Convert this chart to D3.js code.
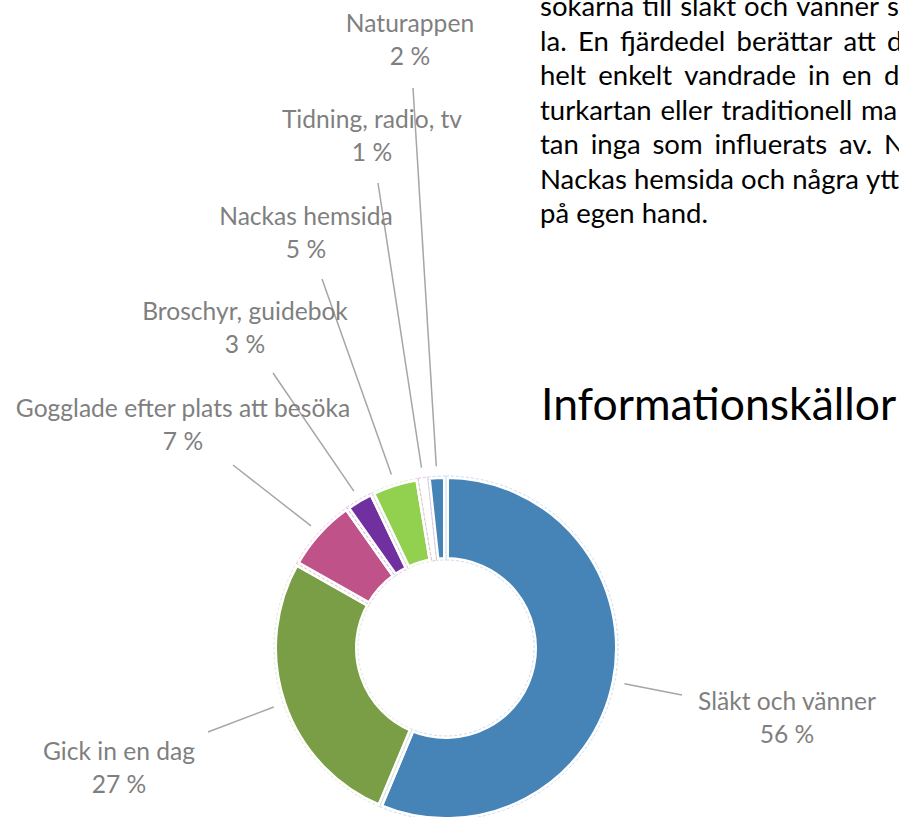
<!DOCTYPE html>
<html>
<head>
<meta charset="utf-8">
<script src="https://cdn.jsdelivr.net/npm/d3@7"></script>
<style>
	body { margin: 0; background: #ffffff; }
	svg { display: block; }
</style>
</head>
<body>
<div id="div_id_main"></div>
<script>

// ---- data -------------------------------------------------------------

const g_vCategories = ["Släkt och vänner", "Gick in en dag", "Gogglade efter plats att besöka",
						"Broschyr, guidebok", "Nackas hemsida", "Tidning, radio, tv", "Naturappen"];

const g_vShares = [56.3, 26.9, 7.0, 2.7, 4.5, 0.9, 1.7];	// percent

const g_vColors = ["#4683B7", "#7A9E46", "#BF5289", "#7030A0", "#92D050", "#FFFFFF", "#4683B7"];

const g_vOutline = ["#BBD3EA", "#D3E2C0", "#EDB9D6", "#CDB3E0", "#D4EDBB", "#E6A3D3", "#BBD3EA"];

const g_sTitle = "Informationskällor";

const g_vParagraph = [
	["sökarna", "till", "släkt", "och", "vänner", "s"],
	["la.", "En", "fjärdedel", "berättar", "att", "d"],
	["helt", "enkelt", "vandrade", "in", "en", "d"],
	["turkartan", "eller", "traditionell", "ma"],
	["tan", "inga", "som", "influerats", "av.", "N"],
	["Nackas", "hemsida", "och", "några", "ytt"],
	["på", "egen", "hand."]
];

// ---- layout -----------------------------------------------------------

const WIDTH = 899, HEIGHT = 817;
const CX = 446, CY = 648;
const R_OUTER = 172, R_INNER = 88, R_LEADER = 182;

// label centre x, first baseline y, leader start x, y
const LABEL_LAYOUT = [
	[787, 710, 682, 695],
	[119, 760, 208, 732],
	[183, 417, 233, 465],
	[245, 320, 273, 373],
	[306, 225, 322, 279],
	[372, 128, 378, 183],
	[410,  32, 413,  88]
];

// x where the last (clipped) fragment of each justified line starts
const PARA_X = 540, PARA_Y = 16, PARA_STEP = 34.5;
const PARA_LAST_X = [887, 887, 884, 861, 884, 866, null];

const FONT = "Lato, 'Open Sans', sans-serif";

// -----------------------------------------------------------------------

let svgMain = d3.select("#div_id_main")
				.append("svg")
					.attr("width", WIDTH)
					.attr("height", HEIGHT);

let pie = d3.pie().sort(null).value(function(d) { return d; });
let dsArcs = pie(g_vShares);

let arc = d3.arc().innerRadius(R_INNER).outerRadius(R_OUTER);
let arcLeader = d3.arc().innerRadius(R_LEADER).outerRadius(R_LEADER);

let gPie = svgMain.append("g")
				.attr("transform", "translate(" + CX + "," + CY + ")");

gPie.selectAll("path.slice")
	.data(dsArcs)
	.enter()
		.append("path")
			.attr("class", "slice")
			.attr("d", arc)
			.attr("fill", function(d, i) { return g_vColors[i]; })
			.attr("stroke", "#ffffff")
			.attr("stroke-width", 6)
			.attr("stroke-linejoin", "miter");

gPie.selectAll("path.outline")
	.data(dsArcs)
	.enter()
		.append("path")
			.attr("class", "outline")
			.attr("d", arc)
			.attr("fill", "none")
			.attr("stroke", function(d, i) { return g_vOutline[i]; })
			.attr("stroke-width", 0.8)
			.attr("stroke-dasharray", "3,2");

// leader lines
svgMain.selectAll("line.leader")
	.data(dsArcs)
	.enter()
		.append("line")
			.attr("class", "leader")
			.attr("x1", function(d, i) { return LABEL_LAYOUT[i][2]; })
			.attr("y1", function(d, i) { return LABEL_LAYOUT[i][3]; })
			.attr("x2", function(d) { return CX + arcLeader.centroid(d)[0]; })
			.attr("y2", function(d) { return CY + arcLeader.centroid(d)[1]; })
			.attr("stroke", "#A6A6A6")
			.attr("stroke-width", 1.5);

// labels
let fmtPct = function(v) { return Math.round(v) + " %"; };

let gLabels = svgMain.selectAll("text.label")
	.data(dsArcs)
	.enter()
		.append("text")
			.attr("class", "label")
			.attr("font-family", FONT)
			.attr("font-size", 24.6)
			.attr("fill", "#7F7F7F")
			.attr("text-anchor", "middle");

gLabels.append("tspan")
		.attr("x", function(d, i) { return LABEL_LAYOUT[i][0]; })
		.attr("y", function(d, i) { return LABEL_LAYOUT[i][1]; })
		.text(function(d, i) { return g_vCategories[i]; });

gLabels.append("tspan")
		.attr("x", function(d, i) { return LABEL_LAYOUT[i][0]; })
		.attr("y", function(d, i) { return LABEL_LAYOUT[i][1] + 33; })
		.text(function(d) { return fmtPct(d.data); });

// title
svgMain.append("text")
		.attr("x", 541)
		.attr("y", 420)
		.attr("font-family", FONT)
		.attr("font-size", 44.5)
		.attr("fill", "#000000")
		.text(g_sTitle);

// justified paragraph (clipped by the right edge)
let gPara = svgMain.append("g")
				.attr("font-family", FONT)
				.attr("font-size", 27.5)
				.attr("fill", "#000000");

let txtMeasure = gPara.append("text").attr("x", -1000).attr("y", -1000);

function funcWordWidth(s) {
	txtMeasure.text(s);
	return txtMeasure.node().getComputedTextLength();
}

let fSpace = funcWordWidth("a a") - funcWordWidth("aa");

g_vParagraph.forEach(function(vWords, l) {

	let vW = vWords.map(funcWordWidth);
	let n = vWords.length;
	let fGap = fSpace;

	if (PARA_LAST_X[l] != null) {
		let fSum = d3.sum(vW.slice(0, n - 1));
		fGap = (PARA_LAST_X[l] - PARA_X - fSum) / (n - 1);
	}

	let x = PARA_X;
	let txt = gPara.append("text").attr("y", PARA_Y + l * PARA_STEP);

	for (let i = 0; i < n; i++) {
		txt.append("tspan").attr("x", x).text(vWords[i]);
		x += vW[i] + fGap;
	}
});

txtMeasure.remove();

</script>
</body>
</html>
